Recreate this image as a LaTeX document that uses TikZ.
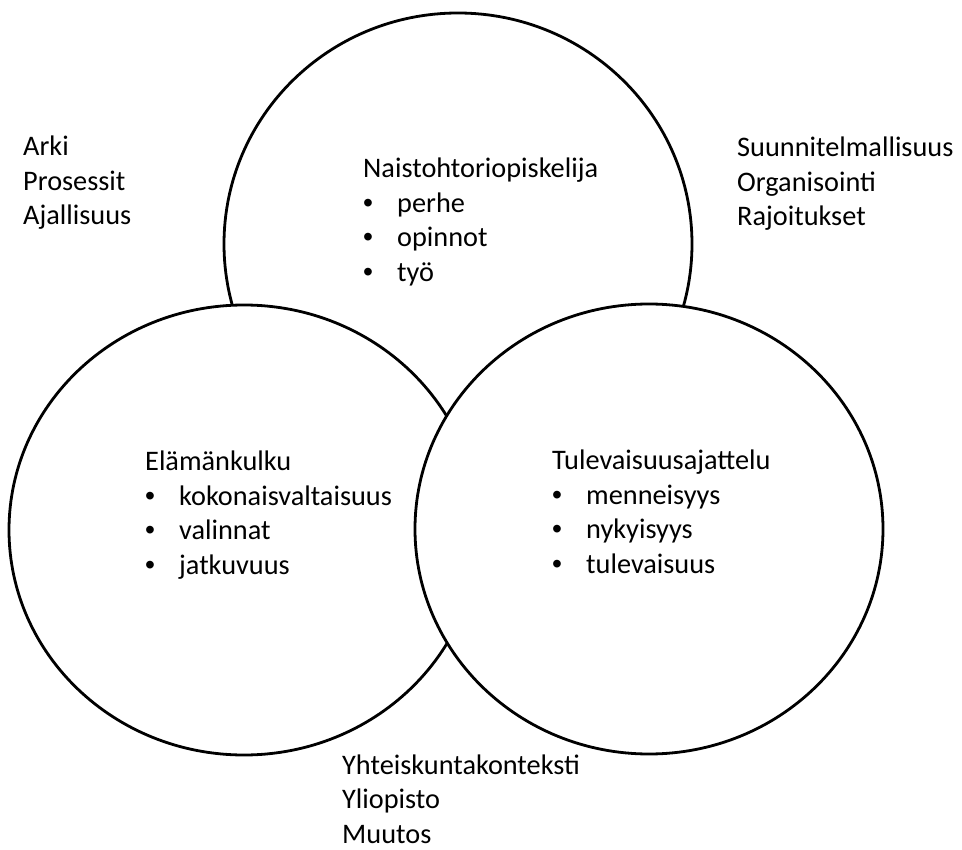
\documentclass[tikz,border=0pt]{standalone}
\usepackage{fontspec}
\setmainfont{Carlito}
\newfontfamily\bulletfont{Liberation Sans}
\newcommand\blk[1]{\vtop{\baselineskip=34.5pt\lineskiplimit=-100pt #1}}
\newcommand\lineitem[1]{\hbox{#1}}
\newcommand\bul[1]{\hbox{\makebox[34pt][l]{\bulletfont •}#1}}
\begin{document}
\begin{tikzpicture}[x=1pt,y=-1pt,
  ring/.style={draw=black,line width=2.8pt,fill=white},
  lbl/.style={anchor=base west,inner sep=0pt,font=\fontsize{28.3pt}{34.5pt}\selectfont}]
\useasboundingbox (0,0) rectangle (962,850);
\draw[ring] (458,244) ellipse [x radius=234, y radius=231];
\draw[ring] (244,530) ellipse [x radius=235, y radius=225];
\draw[ring] (649,529) ellipse [x radius=234, y radius=225];
\node[lbl] (top) at (363,178) {\blk{\lineitem{Naistohtoriopiskelija}\bul{perhe}\bul{opinnot}\bul{työ}}};
\node[lbl] (left) at (145,471) {\blk{\lineitem{Elämänkulku}\bul{kokonaisvaltaisuus}\bul{valinnat}\bul{jatkuvuus}}};
\node[lbl] (right) at (552,470) {\blk{\lineitem{Tulevaisuusajattelu}\bul{menneisyys}\bul{nykyisyys}\bul{tulevaisuus}}};
\node[lbl] (tl) at (23,156) {\blk{\lineitem{Arki}\lineitem{Prosessit}\lineitem{Ajallisuus}}};
\node[lbl] (tr) at (737,157) {\blk{\lineitem{Suunnitelmallisuus}\lineitem{Organisointi}\lineitem{Rajoitukset}}};
\node[lbl] (bot) at (342,774) {\blk{\lineitem{Yhteiskuntakonteksti}\lineitem{Yliopisto}\lineitem{Muutos}}};
\end{tikzpicture}
\end{document}
